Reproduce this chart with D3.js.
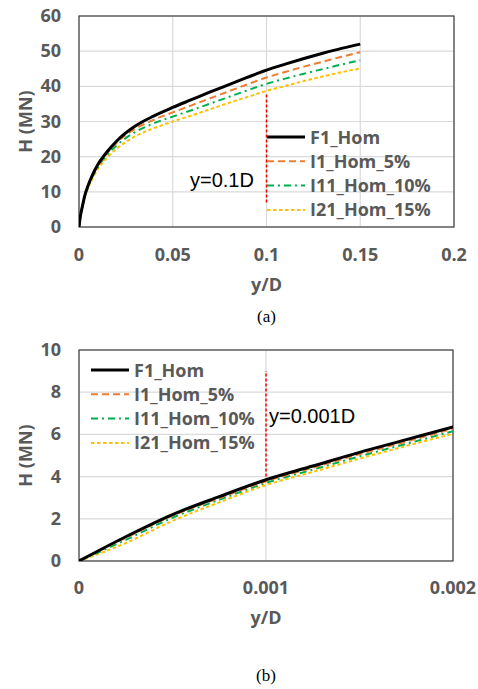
<!DOCTYPE html>
<html>
<head>
<meta charset="utf-8">
<script src="https://cdn.jsdelivr.net/npm/d3@7"></script>
<style>
  body { margin: 0; background: #fff; }
  .tick-label { font-family: "Open Sans", sans-serif; font-weight: 700; font-size: 18px; fill: #595959; }
  .axis-title { font-family: "Open Sans", sans-serif; font-weight: 700; font-size: 18px; fill: #595959; }
  .legend-text { font-family: "Open Sans", sans-serif; font-weight: 700; font-size: 18px; fill: #595959; }
  .note { font-family: "Liberation Sans", Arial, sans-serif; font-size: 20px; fill: #000; }
  .caption { font-family: "Liberation Serif", "Times New Roman", serif; font-size: 17px; fill: #000; }
</style>
</head>
<body>
<script>
// Data: displacement ratio y/D and lateral load H (MN)

var yD = [0, 0.00025, 0.0005, 0.00075, 0.001, 0.00125, 0.0015, 0.00175, 0.002, 0.003, 0.005, 0.0075,
  0.01, 0.015, 0.02, 0.03, 0.04, 0.05, 0.06, 0.07, 0.08, 0.09, 0.1, 0.11, 0.12, 0.13, 0.14, 0.15];

var hF1 = [0, 1.15, 2.2, 3.05, 3.85, 4.5, 5.15, 5.75, 6.35, 8.8, 12.0, 15.2,
  17.7, 21.4, 24.4, 28.7, 31.6, 34.0, 36.2, 38.4, 40.5, 42.6, 44.6, 46.3, 47.9, 49.4, 50.8, 52.0];
var hI1 = [0, 1.1, 2.15, 2.98, 3.78, 4.42, 5.06, 5.66, 6.27, 8.65, 11.8, 14.9,
  17.35, 21.0, 23.9, 27.9, 30.5, 32.6, 34.6, 36.6, 38.6, 40.6, 42.5, 44.1, 45.6, 47.0, 48.4, 49.7];
var hI11 = [0, 1.0, 2.05, 2.9, 3.7, 4.33, 4.96, 5.55, 6.15, 8.5, 11.6, 14.6,
  17.0, 20.5, 23.2, 27.0, 29.5, 31.4, 33.2, 35.1, 37.0, 38.9, 40.7, 42.2, 43.6, 44.9, 46.2, 47.4];
var hI21 = [0, 0.85, 1.9, 2.78, 3.6, 4.22, 4.85, 5.45, 6.03, 8.3, 11.3, 14.1,
  16.4, 19.7, 22.2, 25.8, 28.1, 30.0, 31.7, 33.5, 35.3, 37.0, 38.7, 40.1, 41.5, 42.8, 44.0, 45.1];

var seriesNames = ["F1_Hom", "I1_Hom_5%", "I11_Hom_10%", "I21_Hom_15%"];
var seriesColors = ["#000000", "#ED7D31", "#00B050", "#FFC000"];
var seriesDash = [null, "7,4", "7,4,2,4", "3.5,2.5"];
var seriesWidth = [3, 2, 2, 2];
var seriesValues = [hF1, hI1, hI11, hI21];

var xTicksA = [0, 0.05, 0.1, 0.15, 0.2];
var yTicksA = [0, 10, 20, 30, 40, 50, 60];
var xTicksB = [0, 0.001, 0.002];
var yTicksB = [0, 2, 4, 6, 8, 10];

var svg = d3.select("body")
  .append("svg")
  .attr("width", 478)
  .attr("height", 689);

// draws one panel of the figure
function drawPanel(opt) {
  var x = d3.scaleLinear().domain(opt.xDomain).range([opt.left, opt.right]);
  var y = d3.scaleLinear().domain(opt.yDomain).range([opt.bottom, opt.top]);
  var g = svg.append("g");

  // gridlines
  g.selectAll(".hgrid")
    .data(opt.yTicks)
    .enter()
    .append("line")
    .attr("x1", opt.left).attr("x2", opt.right)
    .attr("y1", function (d) { return y(d); })
    .attr("y2", function (d) { return y(d); })
    .attr("stroke", "#d9d9d9")
    .attr("stroke-width", 1.2);

  g.selectAll(".vgrid")
    .data(opt.xTicks)
    .enter()
    .append("line")
    .attr("y1", opt.top).attr("y2", opt.bottom)
    .attr("x1", function (d) { return x(d); })
    .attr("x2", function (d) { return x(d); })
    .attr("stroke", "#d9d9d9")
    .attr("stroke-width", 1.2);

  // plot frame
  g.append("rect")
    .attr("x", opt.left).attr("y", opt.top)
    .attr("width", opt.right - opt.left)
    .attr("height", opt.bottom - opt.top)
    .attr("fill", "none")
    .attr("stroke", "#404040")
    .attr("stroke-width", 1.2);

  // tick labels
  g.selectAll(".ylab")
    .data(opt.yTicks)
    .enter()
    .append("text")
    .attr("class", "tick-label")
    .attr("x", opt.left - 18)
    .attr("y", function (d) { return y(d) + 6; })
    .attr("text-anchor", "end")
    .text(function (d) { return d; });

  g.selectAll(".xlab")
    .data(opt.xTicks)
    .enter()
    .append("text")
    .attr("class", "tick-label")
    .attr("x", function (d) { return x(d); })
    .attr("y", opt.xLabelY + 6)
    .attr("text-anchor", "middle")
    .text(function (d) { return d; });

  // axis titles
  g.append("text")
    .attr("class", "axis-title")
    .attr("transform", "translate(32," + (opt.top + opt.bottom) / 2 + ")rotate(-90)")
    .attr("text-anchor", "middle")
    .text("H (MN)");

  g.append("text")
    .attr("class", "axis-title")
    .attr("x", (opt.left + opt.right) / 2)
    .attr("y", opt.xTitleY + 6)
    .attr("text-anchor", "middle")
    .text("y/D");

  // curves
  var clipId = "clip" + opt.id;
  svg.append("clipPath").attr("id", clipId)
    .append("rect")
    .attr("x", opt.left).attr("y", opt.top)
    .attr("width", opt.right - opt.left)
    .attr("height", opt.bottom - opt.top);

  var line = d3.line()
    .x(function (d) { return x(d[0]); })
    .y(function (d) { return y(d[1]); })
    .curve(d3.curveMonotoneX);

  var curves = g.append("g").attr("clip-path", "url(#" + clipId + ")");
  // draw in reverse so the black curve is on top
  for (var s = seriesValues.length - 1; s >= 0; s--) {
    var pts = yD.map(function (v, i) { return [v, seriesValues[s][i]]; })
      .filter(function (p) { return p[0] <= opt.xDomain[1] * 1.6; });
    curves.append("path")
      .datum(pts)
      .attr("d", line)
      .attr("fill", "none")
      .attr("stroke", seriesColors[s])
      .attr("stroke-width", seriesWidth[s])
      .attr("stroke-dasharray", seriesDash[s]);
  }

  // reference line
  g.append("line")
    .attr("x1", x(opt.refX)).attr("x2", x(opt.refX))
    .attr("y1", y(opt.refFrom)).attr("y2", y(opt.refTo))
    .attr("stroke", "#ff0000")
    .attr("stroke-width", 1.5)
    .attr("stroke-dasharray", "3,2");

  g.append("text")
    .attr("class", "note")
    .attr("x", opt.noteX)
    .attr("y", opt.noteY)
    .text(opt.note);

  // legend
  var leg = g.selectAll(".legend")
    .data(seriesNames)
    .enter()
    .append("g")
    .attr("transform", function (d, i) { return "translate(" + opt.legX + "," + (opt.legY + i * opt.legStep) + ")"; });

  leg.append("line")
    .attr("x1", 0).attr("x2", 38)
    .attr("y1", 0).attr("y2", 0)
    .attr("stroke", function (d, i) { return seriesColors[i]; })
    .attr("stroke-width", function (d, i) { return seriesWidth[i]; })
    .attr("stroke-dasharray", function (d, i) { return seriesDash[i]; });

  leg.append("text")
    .attr("class", "legend-text")
    .attr("x", 43)
    .attr("y", 6.5)
    .text(function (d) { return d; });

  svg.append("text")
    .attr("class", "caption")
    .attr("x", (opt.left + opt.right) / 2)
    .attr("y", opt.captionY + 6)
    .attr("text-anchor", "middle")
    .text(opt.caption);
}

drawPanel({
  id: "a", left: 79, right: 454, top: 16, bottom: 227,
  xDomain: [0, 0.2], yDomain: [0, 60], xTicks: xTicksA, yTicks: yTicksA,
  xLabelY: 255, xTitleY: 285, captionY: 316, caption: "(a)",
  refX: 0.1, refFrom: 7, refTo: 38, note: "y=0.1D", noteX: 190, noteY: 187,
  legX: 267, legY: 137, legStep: 24.3
});

drawPanel({
  id: "b", left: 79, right: 453, top: 350, bottom: 561,
  xDomain: [0, 0.002], yDomain: [0, 10], xTicks: xTicksB, yTicks: yTicksB,
  xLabelY: 588, xTitleY: 618, captionY: 675, caption: "(b)",
  refX: 0.001, refFrom: 4, refTo: 9, note: "y=0.001D", noteX: 269, noteY: 423,
  legX: 91, legY: 370, legStep: 24.3
});
</script>
</body>
</html>
